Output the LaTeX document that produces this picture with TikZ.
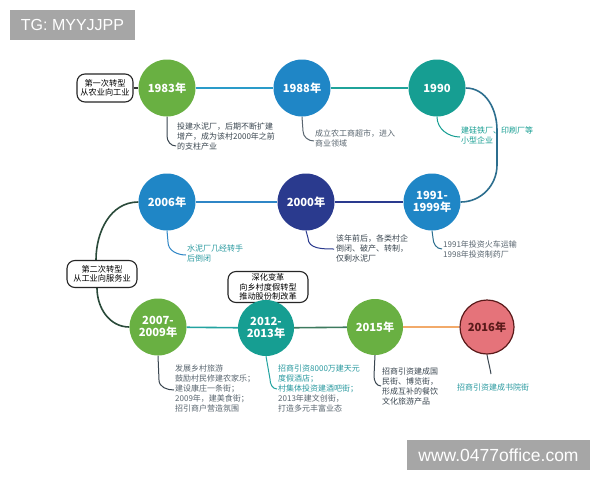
\documentclass[tikz,border=0pt]{standalone}
\usepackage{fontspec}
\usetikzlibrary{backgrounds,calc}
\setmainfont{Noto Sans CJK SC}
\newfontfamily\wm{Liberation Sans}
\definecolor{cgreen}{HTML}{69B042}
\definecolor{cblue}{HTML}{1F86C6}
\definecolor{cteal}{HTML}{169E92}
\definecolor{cnavy}{HTML}{2A3A8E}
\definecolor{cred}{HTML}{E5737A}
\definecolor{credd}{HTML}{5A1A1A}
\definecolor{lteal}{HTML}{2A9AA0}
\definecolor{ldark}{HTML}{3A4650}
\definecolor{lgray}{HTML}{5A6670}
\definecolor{lorange}{HTML}{F2AA6A}
\definecolor{wmgray}{HTML}{A6A6A6}
\definecolor{k1}{HTML}{2A9BC9}
\definecolor{k2}{HTML}{1FA39A}
\definecolor{k3}{HTML}{2C6E8E}
\definecolor{k4}{HTML}{2F86C6}
\definecolor{k5}{HTML}{2A4A3A}
\definecolor{k6}{HTML}{22A3A0}
\definecolor{k7}{HTML}{3D7A5E}
\begin{document}
\begin{tikzpicture}[x=1pt,y=-1pt,
  yr/.style={circle, minimum size=57pt, inner sep=0pt, text=white, align=center,
    font=\bfseries\fontsize{11.2}{12.5}\selectfont},
  note/.style={anchor=north west, align=left, inner sep=0pt, font=\fontsize{8}{10}\selectfont},
  tbox/.style={draw=black!85, line width=1.1pt, rounded corners=8pt, fill=white, align=center,
    font=\fontsize{8.2}{9.4}\selectfont, inner sep=0pt},
  lead/.style={line width=1pt},
  link/.style={line width=1.6pt},
  wmark/.style={fill=wmgray, text=white, inner sep=0pt}
]
\useasboundingbox (0,0) rectangle (600,480);

% watermarks
\node[wmark, minimum width=125pt, minimum height=30pt, font=\wm\fontsize{16}{18}\selectfont] (wm1) at (72.5,25) {TG: MYYJJPP};
\node[wmark, minimum width=183pt, minimum height=30pt, font=\wm\fontsize{17.5}{19}\selectfont] (wm2) at (498.5,455) {www.0477office.com};

% boxes
\node[tbox, minimum width=56pt, minimum height=28pt] (box1) at (105,88) {第一次转型\\从农业向工业};
\node[tbox, minimum width=70pt, minimum height=27pt] (box2) at (102,274) {第二次转型\\从工业向服务业};
\node[tbox, minimum width=80pt, minimum height=31pt] (box3) at (268,287) {深化变革\\向乡村度假转型\\推动股份制改革};

% circles
\node[yr, fill=cgreen] (c1983) at (167,88) {1983年};
\node[yr, fill=cblue] (c1988) at (302,88) {1988年};
\node[yr, fill=cteal] (c1990) at (437,88) {1990};
\node[yr, fill=cblue] (c1991) at (432,202) {1991-\\1999年};
\node[yr, fill=cnavy] (c2000) at (306,202) {2000年};
\node[yr, fill=cblue] (c2006) at (167,202) {2006年};
\node[yr, fill=cgreen] (c2007) at (158,327) {2007-\\2009年};
\node[yr, fill=cteal, minimum size=56pt] (c2012) at (266,328) {2012-\\2013年};
\node[yr, fill=cgreen, minimum size=56pt] (c2015) at (375,327) {2015年};
\node[yr, fill=cred, draw=credd, line width=1.2pt, text=credd, minimum size=54pt] (c2016) at (487,327) {2016年};

% notes
\node[note, text=ldark] (n1983) at (177,123) {投建水泥厂，后期不断扩建\\增产，成为该村2000年之前\\的支柱产业};
\node[note, text=lgray] (n1988) at (315,130) {成立农工商超市，进入\\商业领域};
\node[note, text=cteal] (n1990) at (461,127) {建硅铁厂、印刷厂等\\小型企业};
\node[note, text=lgray] (n1991) at (443,241) {1991年投资火车运输\\1998年投资制药厂};
\node[note, text=ldark] (n2000) at (336,235) {该年前后，各类村企\\倒闭、破产、转制，\\仅剩水泥厂};
\node[note, text=lteal] (n2006) at (187,245) {水泥厂几经转手\\后倒闭};
\node[note, text=lgray] (n2007) at (175,365) {发展乡村旅游\\鼓励村民修建农家乐；\\建设康庄一条街；\\2009年，建美食街；\\招引商户营造氛围};
\node[note, text=lgray] (n2012) at (278,365) {\textcolor{lteal}{招商引资8000万建天元}\\\textcolor{lteal}{度假酒店；}\\\textcolor{lteal}{村集体投资建酒吧街；}\\2013年建文创街，\\打造多元丰富业态};
\node[note, text=ldark] (n2015) at (382,368) {招商引资建成国\\民街、博览街，\\形成互补的餐饮\\文化旅游产品};
\node[note, text=lteal] (n2016) at (457,384) {招商引资建成书院街};

% leader end points
\coordinate (e1983) at (176,146);
\coordinate (e1988) at (314,141);
\coordinate (e1990) at (460,137);
\coordinate (e1991) at (442,249);
\coordinate (e2000) at (334,249);
\coordinate (e2006) at (186,255);
\coordinate (e2007) at (174,390);
\coordinate (e2012) at (277,389);
\coordinate (e2015) at (381,386);
\coordinate (e2016) at (491,374);

\begin{scope}[on background layer]
\fill[white] (0,0) rectangle (600,480);
% links
\draw[line width=1.1pt, black!80] (box1) -- (c1983);
\draw[line width=1.1pt, black!80] (box3) -- (c2012);
\draw[link, k1] (c1983) -- (c1988);
\draw[link, k2] (c1988) -- (c1990);
\draw[link, k3] (c1990.east) to[out=0,in=90] (497,130) -- (497,165) to[out=-90,in=0] (c1991.east);
\draw[link, cnavy] (c1991) -- (c2000);
\draw[link, k4] (c2000) -- (c2006);
\draw[link, k5] (c2006.west) to[out=180,in=90] ($(box2.north)+(-6,0)$);
\draw[link, k5] ($(box2.south)+(-5,0)$) to[out=-90,in=180] (c2007.west);
\draw[link, k6] (c2007) -- (c2012);
\draw[link, k7] (c2012) -- (c2015);
\draw[link, lorange] (c2015) -- (c2016);
% leaders
\draw[lead, ldark] (c1983.south) -- (167,136) to[out=-90,in=180] (e1983);
\draw[lead, lgray] (c1988.south) -- (303,131) to[out=-90,in=180] (e1988);
\draw[lead, cteal] (c1990.south) to[out=-90,in=180] (e1990);
\draw[lead, k3] (c1991.south) -- (433,238) to[out=-90,in=180] (e1991);
\draw[lead, cnavy] (c2000.south) -- (308,238) to[out=-90,in=180] (e2000);
\draw[lead, k4] (c2006.south) -- (168,242) to[out=-90,in=180] (e2006);
\draw[lead, ldark] (c2007.south) -- (159,380) to[out=-90,in=180] (e2007);
\draw[lead, k6] (c2012.south) -- (270,379) to[out=-90,in=180] (e2012);
\draw[lead, ldark] (c2015.south) -- (374,376) to[out=-90,in=180] (e2015);
\draw[lead, ldark] (c2016.south) to[out=-80,in=100] (e2016);
\end{scope}
\end{tikzpicture}
\end{document}
